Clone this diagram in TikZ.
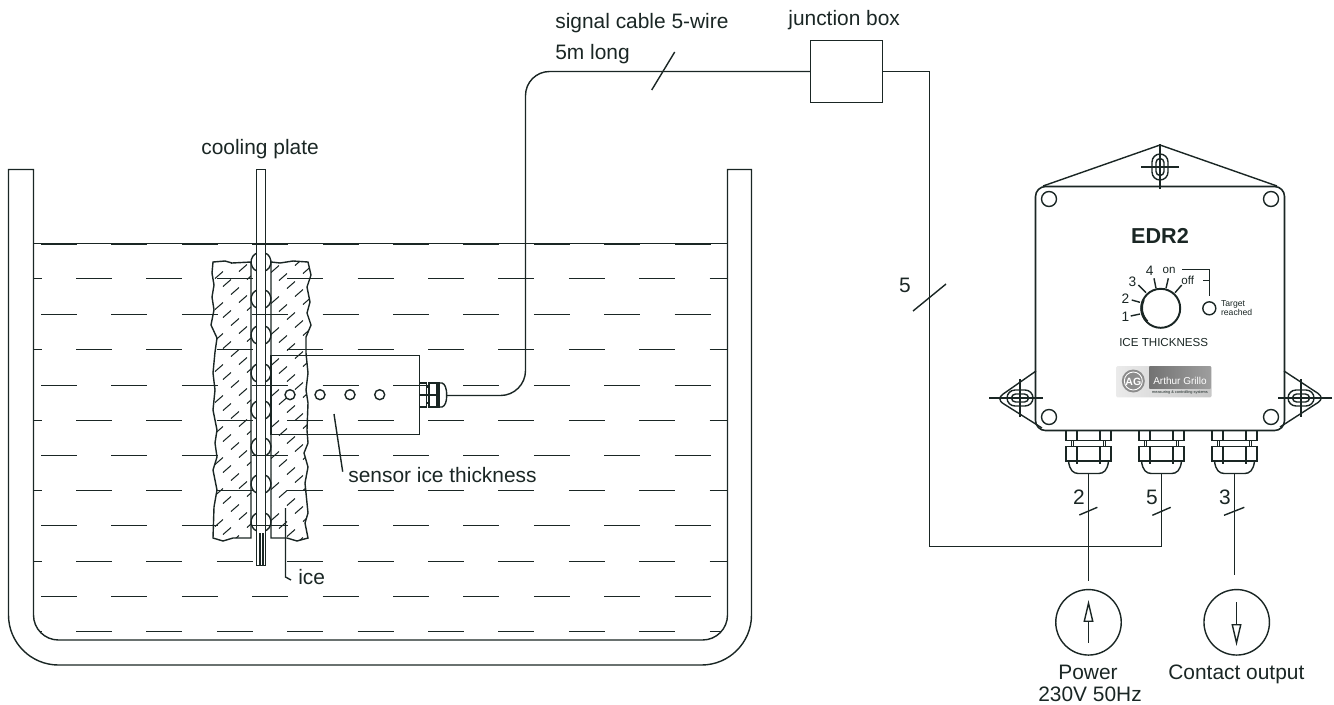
\documentclass[tikz,border=0pt]{standalone}
\usepackage{fontspec}
\setmainfont{Liberation Sans}
\usetikzlibrary{arrows.meta}

\definecolor{ink}{HTML}{1A2624}

\tikzset{
  wire/.style={ink,line width=0.8pt},
  waterdash/.style={ink,line width=0.85pt},
  hatchline/.style={ink,line width=0.6pt},
  txt/.style={inner sep=0,anchor=base west,text=ink,font=\fontsize{11.9}{14}\selectfont},
  txtmid/.style={txt,anchor=base},
  dialtxt/.style={txtmid,font=\fontsize{6.6}{8}\selectfont},
  dialnum/.style={txtmid,font=\fontsize{7.8}{9}\selectfont},
  flowtip/.style={-{Triangle[open,length=12.5pt,width=5.6pt]}}
}

% ice blocks on both sides of the plate
\newcommand{\iceoutline}{
  (251,-262) -- (232,-263) -- (225,-261) -- (213,-262) -- (212,-273) -- (214,-285) -- (212,-297)
  -- (214,-310) -- (211,-325) -- (217,-338) -- (215,-352) -- (213,-373) -- (215,-390)
  -- (213,-410) -- (217,-430) -- (215,-443) -- (217,-457) -- (213,-470) -- (217,-490)
  -- (214,-507) -- (213,-538) -- (223,-541) -- (233,-538) -- (251,-538) -- cycle
  (271,-262) -- (280,-263) -- (293,-261) -- (308,-262) -- (311,-275) -- (307,-287) -- (310,-302)
  -- (307,-313) -- (311,-325) -- (306,-337) -- (306,-353) -- (308,-373) -- (306,-390)
  -- (308,-403) -- (307,-430) -- (308,-443) -- (304,-453) -- (308,-467) -- (305,-483)
  -- (308,-513) -- (305,-523) -- (308,-538) -- (297,-541) -- (287,-538) -- (271,-538) -- cycle
}

% mounting slot with centre lines
\newcommand{\slotmark}[4]{
  \begin{scope}[shift={(#1,#2)},rotate=#3]
    \draw[wire] (-4.5,-4) -- (4.5,-4) arc (-90:90:4) -- (-4.5,4) arc (90:270:4) -- cycle;
    \draw[wire] (-5,-8) -- (5,-8) arc (-90:90:8) -- (-5,8) arc (90:270:8) -- cycle;
    \draw[hatchline] (-#4,0) -- (23,0);
    \draw[hatchline] (0,-19) -- (0,19);
  \end{scope}
}

% cable gland under the housing
\newcommand{\gland}[2]{
  \begin{scope}[shift={(#2,-430.5)}]
    \draw[wire] (-22.5,0) rectangle (22.5,-10);
    \draw[wire] (-22.5,-16) rectangle (22.5,-30.5);
    \draw[wire] (-11.5,0) -- (-11.5,-10) (11.5,0) -- (11.5,-10);
    \draw[wire] (-11.5,-16) -- (-11.5,-33) (11.5,-16) -- (11.5,-33);
    \draw[wire] (-17,-10) -- (-17,-16) (-15,-10) -- (-15,-16) (17,-10) -- (17,-16) (15,-10) -- (15,-16);
    \draw[wire] (-20,-30.5) .. controls (-19,-40) and (-15,-43) .. (-10,-43) -- (10,-43)
      .. controls (15,-43) and (19,-40) .. (20,-30.5);
    \coordinate (#1) at (0,-43);
  \end{scope}
}

\begin{document}
\begin{tikzpicture}[x=0.02cm,y=0.02cm]
\useasboundingbox (0,0) rectangle (1334,-704);

% tank
\draw[wire] (33.5,-169.5) -- (33.5,-615) arc (180:270:25) -- (702.5,-640) arc (270:360:25) -- (727.5,-169.5)
  -- (751.5,-169.5) -- (751.5,-615) arc (0:-90:50) -- (58.5,-665) arc (270:180:50) -- (8.5,-169.5) -- cycle;
\draw[wire] (33.5,-243.5) -- (727.5,-243.5);

% water
\begin{scope}
  \clip (33.5,-235) -- (33.5,-615) arc (180:270:25) -- (702.5,-640) arc (270:360:25) -- (727.5,-235) -- cycle;
  \foreach \y in {244,314.5,385.5,455.5,525.5,596.5}
    \foreach \k in {-1,...,9}
      \draw[waterdash] (41+70.4*\k,-\y) -- ++(36,0);
  \foreach \y in {278.5,349.5,420.5,490.5,561.5,631.5}
    \foreach \k in {-1,...,9}
      \draw[waterdash] (76+70.4*\k,-\y) -- ++(36,0);
\end{scope}

% ice
\draw[wire] \iceoutline;
\begin{scope}
  \clip \iceoutline;
  \foreach \i in {0,...,12}
    \foreach \j in {-4,...,9}
      \draw[hatchline] (219+8*\i,-275-8*\i-31*\j) ++(-4,-3.5) -- ++(8,7);
\end{scope}

% cooling plate
\draw[wire] (256.5,-169.5) rectangle (265.5,-565.5);
\draw[wire] (260,-533) -- (260,-565) (263,-533) -- (263,-565);
\foreach \y in {262,299,335,373,410,447,484,522}
{
  \draw[wire] (261,-\y) ++(120:10) arc (120:240:10);
  \draw[wire] (261,-\y) ++(-60:10) arc (-60:60:10);
}

% sensor
\draw[wire] (271,-355.5) rectangle (419.5,-434.5);
\draw[ink,line width=1pt] (271,-355.5) -- (271,-434.5);
\foreach \x in {290,320,350,379.7}
  \draw[wire] (\x,-394.7) circle (5);
\draw[wire] (419.5,-383) rectangle (426.7,-407);
\draw[wire] (429,-383) rectangle (439,-407);
\draw[wire] (426.7,-387) -- (429,-387) (426.7,-403) -- (429,-403);
\draw[wire] (419.5,-395) -- (439,-395);
\draw[wire] (437,-383) -- (437,-407);
\draw[wire] (439,-383) -- (442,-383) .. controls (445,-384) and (446.7,-388) .. (446.7,-395.5)
  .. controls (446.7,-402) and (445,-406) .. (442,-407) -- (439,-407);
\coordinate (cableout) at (446.7,-395.5);

% junction box and cables
\node[draw,wire,inner sep=0,outer sep=0,minimum width=1.44cm,minimum height=1.24cm] (jbox) at (846.7,-71.5) {};
\draw[wire] (cableout) -- (500.5,-395.5) arc (-90:0:25) -- (525.5,-95.5) arc (180:90:24) -- (jbox.west);

% housing
\draw[wire,line width=0.9pt,rounded corners=0.2cm] (1035.5,-186.5) rectangle (1284.5,-430.5);
\draw[wire] (1043,-186) -- (1160,-145) -- (1277,-186);
\draw[wire,rounded corners=0.16cm] (1036,-371) -- (996,-399) -- (1042,-428);
\draw[wire,rounded corners=0.16cm] (1284,-371) -- (1325,-398) -- (1280,-427);
\foreach \x/\y in {1049/199,1271/199,1049/417,1271/417}
  \draw[wire] (\x,-\y) circle (7.5);
\slotmark{1160}{-167}{90}{22}
\slotmark{1020}{-398}{0}{31}
\slotmark{1301}{-398}{180}{31}

% dial
\draw[ink,line width=1.1pt] (1160.7,-308.3) circle (19.5);
\draw[ink,line width=1.4pt] (1143.5,-300) arc (155:225:19);
\foreach \xa/\ya/\xb/\yb in {1130.7/316/1140/314,1131.7/300/1140/302.3,1138.3/285/1146/292.7,
                             1154/278.3/1156/288.3,1168.3/278.3/1166/288.3,1181.7/285/1175/292.7}
  \draw[wire] (\xa,-\ya) -- (\xb,-\yb);
\node[dialnum] (dialone) at (1125.3,-321.7) {1};
\node[dialnum] (dialtwo) at (1125.3,-303.3) {2};
\node[dialnum] (dialthree) at (1132.3,-286.7) {3};
\node[dialnum] (dialfour) at (1149.7,-275) {4};
\node[dialtxt] (dialon) at (1169,-273.3) {on};
\node[dialtxt] (dialoff) at (1187.7,-284.3) {off};
\node[dialtxt] (dialname) at (1163.7,-346) {ICE THICKNESS};
\node[txtmid,font=\fontsize{12.3}{14}\bfseries] (devname) at (1160,-243) {EDR2};

% target lamp
\node[draw,wire,circle,inner sep=0,outer sep=0,minimum size=0.26cm] (lamp) at (1209.3,-308.3) {};
\coordinate (lampon) at (1182,-269.5);
\coordinate (lamptick) at (1203.3,-280.5);
\draw[wire] (lampon) -| (1209.5,-296);
\draw[wire] (lamptick) -- ++(6,0);
\node[txt,font=\fontsize{4.9}{6}\selectfont] (lamptop) at (1220.7,-306) {Target};
\node[txt,font=\fontsize{4.9}{6}\selectfont] (lampbot) at (1220.7,-315.7) {reached};

% logo
\shade[left color=black!8,right color=black!22,rounded corners=0.03cm] (1116,-366) rectangle (1211.7,-397.3);
\shade[left color=black!55,right color=black!38] (1149.3,-366.7) rectangle (1210.7,-388.3);
\fill[black!45] (1133.3,-381) circle (11.5);
\draw[white,line width=0.5pt] (1133.3,-381) circle (9);
\node[txtmid,text=white,font=\fontsize{6}{7}\bfseries] (logomark) at (1133.3,-385) {AG};
\node[txtmid,text=white,font=\fontsize{5.7}{7}\selectfont] (logoname) at (1180,-384.5) {Arthur Grillo};
\node[txtmid,font=\fontsize{2.2}{3}\selectfont] (logotag) at (1180,-393) {measuring \& controlling systems};

% glands and wires
\gland{glandpower}{1088.5}
\gland{glandsignal}{1161.5}
\gland{glandcontact}{1234.5}

\node[draw,wire,circle,inner sep=0,outer sep=0,minimum size=1.31cm] (power) at (1088.5,-622.3) {};
\node[draw,wire,circle,inner sep=0,outer sep=0,minimum size=1.31cm] (contact) at (1236.7,-622.3) {};
\coordinate (powerend) at (1088.5,-580.7);
\coordinate (contactend) at (1234.5,-575);
\draw[wire] (glandpower) -- (powerend);
\draw[wire] (glandcontact) -- (contactend);
\draw[wire] (jbox.east) -- (929.5,-71.5) -- (929.5,-546.5) -| (glandsignal);

% flow arrows
\coordinate (powerin) at (1088.5,-642.7);
\coordinate (powertip) at (1088.5,-600);
\coordinate (contactin) at (1236.5,-602.3);
\coordinate (contacttip) at (1236.5,-646);
\draw[wire,flowtip] (powerin) -- (powertip);
\draw[wire,flowtip] (contactin) -- (contacttip);

% cable ticks
\foreach \xa/\ya/\xb/\yb in {651.7/90/674.7/52,913/311/946/284,1079.3/515/1097.3/507.3,
                             1152.3/515.3/1170.7/507.3,1224/515.3/1244.3/507.3}
  \draw[wire] (\xa,-\ya) -- (\xb,-\yb);

% leaders
\coordinate (iceleader) at (285.5,-508);
\coordinate (iceend) at (291,-580);
\draw[wire] (iceleader) -- (285.5,-577) -- (iceend);
\coordinate (sensorleader) at (334,-414);
\coordinate (sensorend) at (342.7,-471.7);
\draw[wire] (sensorleader) -- (sensorend);

% labels
\node[txt] (plate) at (201,-154) {cooling plate};
\node[txt] (sensor) at (348,-482) {sensor ice thickness};
\node[txt] (ice) at (298,-584) {ice};
\node[txt] (cableone) at (555,-28) {signal cable 5-wire};
\node[txt] (cabletwo) at (555,-59) {5m long};
\node[txt] (boxname) at (788,-25) {junction box};
\node[txtmid] (wiresfive) at (905,-292) {5};
\node[txtmid] (wirespower) at (1079,-504) {2};
\node[txtmid] (wiressignal) at (1152,-504) {5};
\node[txtmid] (wirescontact) at (1225,-504) {3};
\node[txtmid] (powerone) at (1088,-679) {Power};
\node[txt] (powertwo) at (1038,-701) {230V 50Hz};
\node[txt] (contactname) at (1168,-679) {Contact output};
\end{tikzpicture}
\end{document}
